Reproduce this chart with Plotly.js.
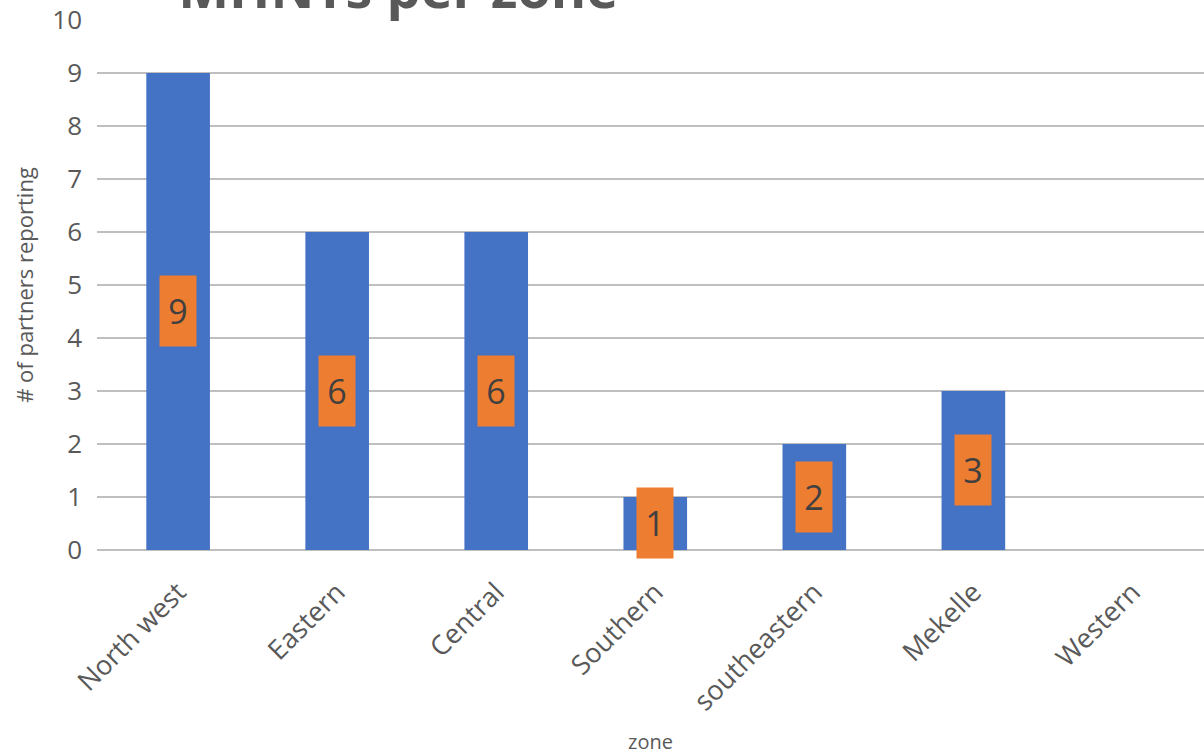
<!DOCTYPE html>
<html>
<head>
<meta charset="utf-8">
<script src="https://cdn.plot.ly/plotly-3.0.1.min.js"></script>
<style>html,body{margin:0;padding:0;background:#fff;}#chart{width:1204px;height:755px;}</style>
</head>
<body>
<div id="chart"></div>
<script>
const zones = ["North west", "Eastern", "Central", "Southern", "southeastern", "Mekelle", "Western"];
const partners = [9, 6, 6, 1, 2, 3, 0];
const yTicks = [0, 1, 2, 3, 4, 5, 6, 7, 8, 9, 10];

const FONT = "Open Sans, Noto Sans, sans-serif";

const trace = {
  type: "bar",
  x: zones,
  y: partners,
  width: 0.4,
  marker: {color: "#4472C4", line: {width: 0}},
  hoverinfo: "x+y"
};

const annotations = zones.map((z, i) => partners[i] > 0 ? ({
  x: z, y: partners[i] / 2, xref: "x", yref: "y",
  text: String(partners[i]), showarrow: false,
  bgcolor: "#ED7D31", width: 34, height: 68, borderpad: 1,
  font: {family: FONT, size: 34, color: "#404040"},
  valign: "middle", align: "center"
}) : null).filter(a => a);

const layout = {
  width: 1204, height: 755,
  margin: {l: 97, r: 0, t: 8, b: 205},
  paper_bgcolor: "#ffffff", plot_bgcolor: "#ffffff",
  showlegend: false,
  title: {
    text: "MHNTs per zone",
    font: {family: FONT, size: 54, color: "#595959", weight: 700},
    xref: "container", yref: "paper",
    x: 0.148, xanchor: "left",
    y: 1, yanchor: "bottom",
    pad: {t: 0, b: 0, l: 0, r: 0}
  },
  xaxis: {
    type: "category",
    range: [-0.51, 6.45],
    tickangle: -45,
    tickfont: {family: FONT, size: 27, color: "#595959"},
    ticks: "", ticklabelstandoff: 20,
    showgrid: false, zeroline: false, showline: false,
    fixedrange: true,
    title: {text: "zone", font: {family: FONT, size: 20, color: "#595959"}, standoff: 35}
  },
  yaxis: {
    domain: [0, 0.97786],
    range: [0, 10],
    tickvals: yTicks,
    tickfont: {family: FONT, size: 26, color: "#595959"},
    ticks: "", ticklabelstandoff: 14,
    showgrid: true, gridcolor: "#bfbfbf", gridwidth: 2.5,
    zeroline: true, zerolinecolor: "#bfbfbf", zerolinewidth: 2.5,
    showline: false, fixedrange: true,
    title: {text: "# of partners reporting", font: {family: FONT, size: 22, color: "#595959"}, standoff: 12}
  },
  annotations: annotations
};

Plotly.newPlot("chart", [trace], layout, {displayModeBar: false, staticPlot: true});
</script>
</body>
</html>
